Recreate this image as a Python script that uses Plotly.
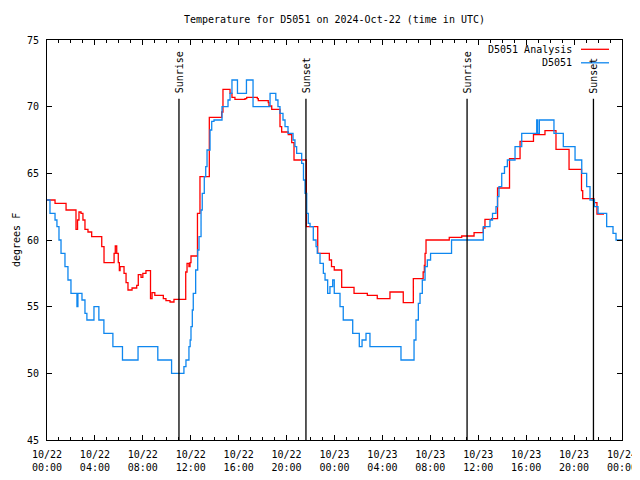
import pandas as pd
import plotly.graph_objects as go

base = pd.Timestamp("2024-10-22 00:00")

# D5051 observations: hours since 2024-10-22 00:00 UTC, temperature (F)
obs_hours = [0, 0.25, 0.67, 0.83, 1.0, 1.17, 1.5, 1.75, 2.0, 2.5, 2.58, 2.92, 3.17, 3.33, 3.92, 4.33,
             4.75, 5.5, 6.3, 7.6, 9.25, 10.4, 11.43, 11.6, 11.85, 11.95, 12.02, 12.13, 12.21, 12.41,
             12.58, 12.69, 12.86, 12.96, 13.13, 13.25, 13.36, 13.61, 13.75, 13.94, 14.61, 15.11, 15.28,
             15.44, 15.9, 16.65, 17.2, 18.62, 19.1, 19.28, 19.45, 19.7, 19.87, 20.12, 20.54, 20.7, 20.84,
             21.26, 21.41, 21.54, 21.68, 21.81, 21.96, 22.23, 22.46, 22.56, 22.79, 23.07, 23.21, 23.43,
             23.62, 23.85, 23.98, 24.46, 24.73, 25.52, 26.07, 26.3, 26.63, 26.96, 29.55, 30.64, 30.8,
             31.0, 31.14, 31.33, 31.56, 31.75, 32.02, 33.77, 36.42, 36.98, 37.19, 37.48, 37.61, 37.73,
             37.96, 38.19, 38.43, 39.07, 39.63, 40.88, 40.96, 41.1, 42.32, 43.1, 44.08, 44.64, 45.05,
             45.33, 45.7, 46.0, 46.72, 47.25, 47.5, 48.0]
obs_temp = [63.0, 62.0, 61.5, 61.0, 60.0, 59.0, 58.0, 57.0, 56.0, 55.0, 56.0, 55.5, 54.5, 54.0, 55.0, 54.0,
            53.0, 52.0, 51.0, 52.0, 51.0, 50.0, 50.5, 51.0, 52.0, 52.5, 53.5, 54.75, 56.0, 57.75,
            59.25, 60.25, 62.25, 63.5, 64.75, 65.5, 66.75, 68.25, 68.9, 69.0, 70.0, 70.5, 71.0,
            72.0, 71.0, 72.0, 70.0, 71.0, 70.5, 70.0, 69.5, 69.0, 68.5, 68.0, 67.5, 67.0, 66.5,
            65.75, 64.5, 63.5, 62.0, 61.25, 61.0, 60.0, 59.5, 59.0, 58.25, 57.5, 57.0, 56.0,
            56.5, 57.0, 56.0, 55.0, 54.0, 53.0, 52.0, 52.5, 53.0, 52.0, 51.0, 52.5, 54.0,
            55.25, 56.0, 57.0, 58.0, 58.5, 59.0, 60.0, 61.0, 61.5, 62.0, 62.5, 63.25, 64.0,
            65.0, 65.5, 66.0, 67.0, 68.0, 69.0, 68.0, 69.0, 68.0, 67.0, 66.0, 65.0, 64.0,
            63.0, 62.5, 62.0, 61.0, 60.5, 60.0, 60.0]

# D5051 Analysis
ana_hours = [0, 0.67, 1.59, 2.42, 2.55, 2.67, 2.84, 3.0, 3.17, 3.42, 3.73, 4.57, 4.76, 5.6, 5.7, 5.82,
             5.95, 6.04, 6.1, 6.43, 6.6, 6.76, 7.1, 7.49, 7.62, 7.85, 8.0, 8.26, 8.64, 8.77, 9.0, 9.71,
             9.93, 10.27, 10.6, 11.58, 11.69, 11.85, 11.94, 12.02, 12.56, 12.77, 13.55, 14.58, 14.69,
             15.28, 15.44, 15.69, 16.53, 16.67, 17.56, 17.64, 18.47, 18.53, 18.76, 19.45, 19.59, 20.14,
             20.43, 20.62, 21.65, 22.6, 23.57, 23.75, 23.98, 24.6, 25.63, 26.74, 27.57, 28.63, 29.74,
             30.58, 31.4, 31.5, 31.56, 31.64, 33.58, 34.62, 35.65, 36.42, 36.56, 37.12, 37.61, 38.61,
             39.49, 40.61, 41.57, 42.49, 43.58, 44.62, 44.72, 45.66, 45.91, 46.5]
ana_temp = [63.0, 62.75, 62.25, 60.8, 61.5, 62.1, 62.0, 61.5, 60.8, 60.6, 60.25, 59.5, 58.3, 59.0, 59.55, 59.0,
            58.3, 57.7, 58.0, 57.5, 56.8, 56.25, 56.4, 56.6, 57.4, 57.2, 57.5, 57.7, 55.6, 56.05, 55.85, 55.6,
            55.45, 55.35, 55.55, 57.6, 58.25, 58.0, 58.3, 58.8, 62.0, 64.75, 69.2, 69.6, 71.3,
            71.0, 70.7, 70.55, 70.6, 70.7, 70.6, 70.45, 70.3, 70.05, 69.8, 68.5, 68.1, 67.9,
            67.3, 66.0, 61.0, 59.0, 58.5, 58.0, 57.75, 56.45, 56.0, 55.85, 55.6, 56.1, 55.3,
            57.1, 57.6, 58.1, 59.0, 60.0, 60.2, 60.3, 60.55, 60.9, 61.55, 61.6, 63.9, 66.1,
            67.4, 67.9, 68.2, 66.8, 65.3, 63.7, 63.1, 62.8, 61.95, 61.95]

sun_labels = ["Sunrise", "Sunset", "Sunrise", "Sunset"]
sun_times = ["2024-10-22 11:01", "2024-10-22 21:37", "2024-10-23 11:04", "2024-10-23 21:37"]

series_names = ["D5051 Analysis", "D5051"]
series_colors = ["#ff0000", "#0f87ef"]

obs_x = base + pd.to_timedelta(obs_hours, unit="h")
ana_x = base + pd.to_timedelta(ana_hours, unit="h")

FONT = "DejaVu Sans Mono"

fig = go.Figure()
fig.add_trace(go.Scatter(x=ana_x, y=ana_temp, mode="lines", name=series_names[0],
                         line=dict(color=series_colors[0], width=1.3, shape="hv")))
fig.add_trace(go.Scatter(x=obs_x, y=obs_temp, mode="lines", name=series_names[1],
                         line=dict(color=series_colors[1], width=1.3, shape="hv")))

for lab, t in zip(sun_labels, sun_times):
    fig.add_shape(type="line", xref="x", yref="y", x0=t, x1=t, y0=45, y1=70.6,
                  line=dict(color="black", width=1.3))
    fig.add_annotation(x=t, y=70.85, xref="x", yref="y", text=lab, textangle=-90,
                       showarrow=False, xanchor="center", yanchor="bottom",
                       font=dict(family=FONT, size=10, color="black"))

# page offset (body margin) of the browser: 8 px
OFF = 8
W, H = 640 - OFF, 480 - OFF
# plot area in screen pixels
L, R, T, B = 47, 622, 40, 440
def px(xp):
    return (xp - L) / (R - L)
def py(yp):
    return (B - yp) / (B - T)

# manual legend (text left of sample, gnuplot style)
for i, (nm, col) in enumerate(zip(series_names, series_colors)):
    yy = 49.3 + i * 13.5
    fig.add_annotation(x=px(574), y=py(yy), xref="paper", yref="paper", text=nm,
                       showarrow=False, xanchor="right", yanchor="middle",
                       font=dict(family=FONT, size=10, color="black"))
    fig.add_shape(type="line", xref="paper", yref="paper", x0=px(581), x1=px(609),
                  y0=py(yy), y1=py(yy), line=dict(color=col, width=1.3))

fig.add_annotation(x=px(8.5), y=0.5, xref="paper", yref="paper", text="degrees F",
                   textangle=-90, showarrow=False, xanchor="left", yanchor="middle",
                   font=dict(family=FONT, size=10, color="black"))

fig.update_layout(
    width=W, height=H,
    margin=dict(l=L - OFF, r=OFF + W - R, t=T - OFF, b=OFF + H - B, autoexpand=False),
    paper_bgcolor="white", plot_bgcolor="white",
    showlegend=False,
    font=dict(family=FONT, size=10, color="black"),
    title=dict(text="Temperature for D5051 on 2024-Oct-22 (time in UTC)",
               x=((L + R) / 2 - OFF) / W, xanchor="center", y=1 - (19 - OFF) / H, yanchor="middle",
               font=dict(family=FONT, size=10, color="black")),
)
fig.update_xaxes(
    type="date", range=["2024-10-22 00:00", "2024-10-24 00:00"], automargin=False,
    tick0="2024-10-22 00:00", dtick=4 * 3600 * 1000, tickformat="%m/%d<br>%H:%M",
    ticks="inside", ticklen=5, tickcolor="black", tickwidth=1,
    minor=dict(dtick=3600 * 1000, ticks="inside", ticklen=3, tickcolor="black", showgrid=False),
    showline=True, linecolor="black", linewidth=1, mirror="ticks",
    showgrid=False, zeroline=False, ticklabelstandoff=5,
)
fig.update_yaxes(
    range=[45, 75], dtick=5, tick0=45, automargin=False,
    ticks="inside", ticklen=5, tickcolor="black", tickwidth=1,
    showline=True, linecolor="black", linewidth=1, mirror="ticks",
    showgrid=False, zeroline=False, ticklabelstandoff=5,
)

fig.write_html("out.html")
